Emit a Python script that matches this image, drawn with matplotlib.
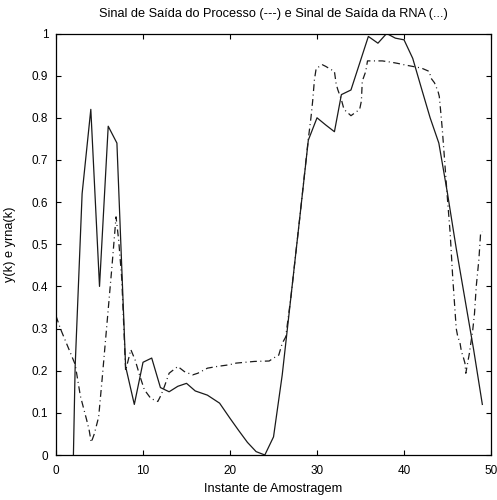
import numpy as np
import matplotlib.pyplot as plt

plt.rcParams['font.family'] = ['Liberation Sans', 'DejaVu Sans']

# Sinal de saída do processo (linha cheia)
k_proc = [2, 2.2, 3, 4, 5, 6, 7, 8, 9, 10, 11, 12, 13, 14, 15, 16, 17.4,
          18.8, 20, 21, 22, 23, 24, 25, 26, 27, 28, 29, 30, 31, 32, 32.8,
          33.9, 35.9, 37, 38, 39, 40, 41, 42, 43, 44, 45, 46, 47, 48, 49]
y_proc = [0.0, 0.21, 0.62, 0.82, 0.40, 0.78, 0.74, 0.21, 0.12, 0.22, 0.23,
          0.16, 0.15, 0.163, 0.17, 0.152, 0.142, 0.123, 0.087, 0.058, 0.03,
          0.008, 0.0, 0.043, 0.19, 0.375, 0.56, 0.747, 0.80, 0.783, 0.767,
          0.855, 0.866, 0.993, 0.977, 1.0, 0.989, 0.985, 0.941, 0.87, 0.80,
          0.74, 0.62, 0.49, 0.37, 0.25, 0.12]

# Sinal de saída da RNA (traço-ponto)
k_rna = [0, 0.5, 1.0, 1.5, 2.2, 2.8, 3.5, 3.8, 4.05, 4.4, 4.9, 5.3, 5.85,
         6.4, 6.9, 7.2, 7.55, 7.8, 8.0, 8.6, 9.1, 9.6, 10.15, 10.9, 11.7,
         12.07, 12.45, 13.0, 14.0, 14.75, 15.7, 16.3, 17.4, 18.5, 19.9, 20.7,
         22.8, 24.5, 25.0, 25.6, 26.0, 26.4, 27, 28, 29, 29.3, 29.5, 29.7,
         29.9, 30.6, 31.0, 31.4, 32.0, 32.2, 32.4, 32.8, 33.1, 33.9, 34.9,
         35.1, 35.2, 35.6, 35.8, 37.5, 38.5, 39.3, 40.2, 42.0, 42.9, 43.1,
         43.5, 43.9, 44.05, 44.25, 44.4, 44.6, 45.0, 45.3, 45.6, 45.8, 46.0,
         46.2, 46.4, 46.6, 46.8, 47.0, 47.1, 47.5, 47.9, 48.1, 48.3, 48.6,
         48.8, 49.0]
y_rna = [0.33, 0.30, 0.275, 0.25, 0.215, 0.14, 0.085, 0.06, 0.03, 0.05, 0.09,
         0.18, 0.31, 0.44, 0.565, 0.51, 0.42, 0.30, 0.20, 0.25, 0.225, 0.19,
         0.155, 0.134, 0.127, 0.142, 0.162, 0.194, 0.21, 0.198, 0.19, 0.194,
         0.206, 0.21, 0.214, 0.218, 0.222, 0.223, 0.23, 0.237, 0.265, 0.28,
         0.375, 0.56, 0.75, 0.80, 0.84, 0.89, 0.917, 0.926, 0.922, 0.917,
         0.91, 0.88, 0.866, 0.843, 0.82, 0.805, 0.82, 0.84, 0.887, 0.91,
         0.935, 0.935, 0.932, 0.929, 0.925, 0.918, 0.91, 0.894, 0.883, 0.863,
         0.851, 0.807, 0.772, 0.717, 0.605, 0.527, 0.42, 0.36, 0.30, 0.278,
         0.27, 0.245, 0.233, 0.218, 0.194, 0.24, 0.297, 0.336, 0.40, 0.463,
         0.526, 0.53]

xticks = [0, 10, 20, 30, 40, 50]
yticks = [0, 0.1, 0.2, 0.3, 0.4, 0.5, 0.6, 0.7, 0.8, 0.9, 1]
ytick_labels = ['0', '0.1', '0.2', '0.3', '0.4', '0.5', '0.6', '0.7', '0.8', '0.9', '1']

fig = plt.figure(figsize=(4.97, 5.0), dpi=100)
ax = fig.add_axes([0.1127, 0.09, 0.8753, 0.843])

ax.plot(k_proc, y_proc, color='#1a1a1a', lw=0.9)
ax.plot(k_rna, y_rna, color='#1a1a1a', lw=0.9, dashes=(5.5, 2.8, 0.8, 2.8))

ax.set_xlim(0, 50)
ax.set_ylim(0, 1)
ax.set_xticks(xticks)
ax.set_yticks(yticks)
ax.set_yticklabels(ytick_labels)
ax.tick_params(direction='in', length=3.5, width=0.8, top=True, right=True,
               labelsize=8.5)
ax.tick_params(axis='x', pad=7)
ax.tick_params(axis='y', pad=5.5)
for s in ax.spines.values():
    s.set_linewidth(0.9)

ax.set_title('Sinal de Saída do Processo (---) e Sinal de Saída da RNA (...)',
             fontsize=9.2, pad=12)
ax.set_xlabel('Instante de Amostragem', fontsize=9.2, va='center')
ax.xaxis.set_label_coords(0.5, -0.081)
ax.set_ylabel('y(k) e yrna(k)', fontsize=9.2, va='center')
ax.yaxis.set_label_coords(-0.106, 0.5)

fig.savefig('out.png', dpi=100)
